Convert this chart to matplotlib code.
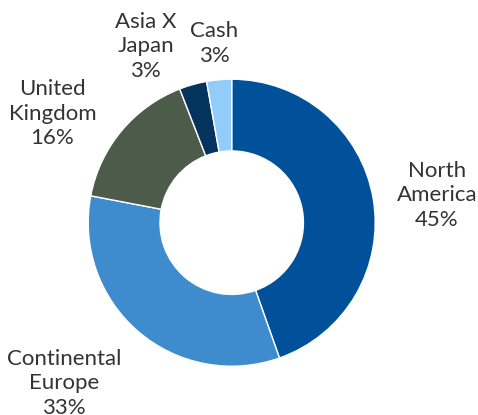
import matplotlib
matplotlib.use('Agg')
from matplotlib import pyplot as plt

REGIONS = ['North\nAmerica', 'Continental\nEurope', 'United\nKingdom', 'Asia X\nJapan', 'Cash']
WEIGHTS = [44.6, 33.4, 16.1, 3.1, 2.8]
PCT_LABELS = ['45%', '33%', '16%', '3%', '3%']

COLORS = ['#00519A', '#3E8BCD', '#4C5B4A', '#04335E', '#92CDFA']
# label anchor points, in units of the outer radius
LABEL_POS = [(1.43, 0.19), (-1.17, -1.12), (-1.25, 0.76), (-0.60, 1.23), (-0.12, 1.25)]

plt.rcParams['font.family'] = ['Lato', 'DejaVu Sans']

fig = plt.figure(figsize=(4.78, 4.15), dpi=100)
ax = fig.add_axes([0, 0, 1, 1])

ax.pie(WEIGHTS, colors=COLORS, startangle=90, counterclock=False, radius=1.0,
       wedgeprops=dict(width=0.5, edgecolor='white', linewidth=1.0))

for name, pct, (x, y) in zip(REGIONS, PCT_LABELS, LABEL_POS):
    ax.text(x, y, name + '\n' + pct, ha='center', va='center', fontsize=16,
            fontweight='normal', color='#333333', linespacing=1.28)

# place the ring centre where it sits in the original
cx, cy, r = 231.7, 222.7, 143.5
ax.set_xlim(-cx / r, (478 - cx) / r)
ax.set_ylim(-(415 - cy) / r, cy / r)
ax.axis('off')

plt.savefig('out.png', dpi=100)
